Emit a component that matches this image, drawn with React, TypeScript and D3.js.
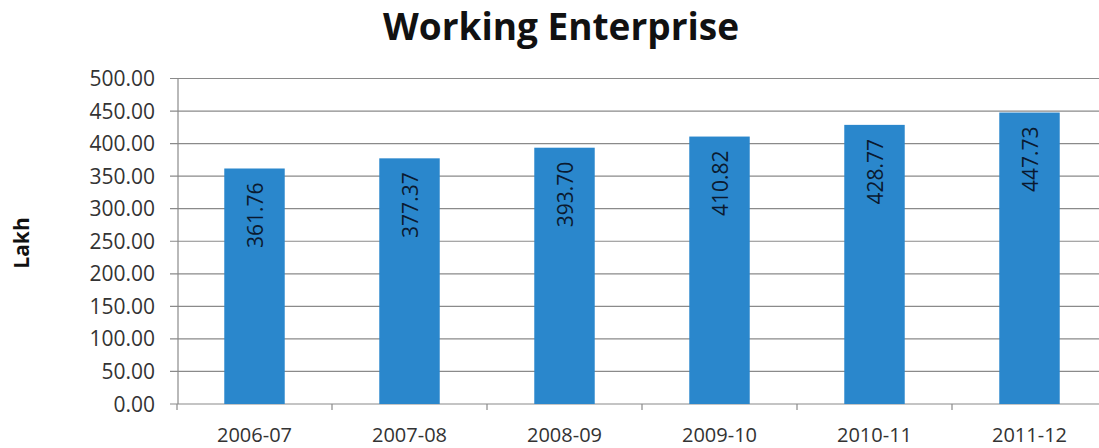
import React from "react";
import * as d3 from "d3";

const categories = ["2006-07", "2007-08", "2008-09", "2009-10", "2010-11", "2011-12"];
const values = [361.76, 377.37, 393.7, 410.82, 428.77, 447.73];
const yTicks = [0, 50, 100, 150, 200, 250, 300, 350, 400, 450, 500];
const title = "Working Enterprise";
const yLabel = "Lakh";

const W = 1099;
const H = 448;
const left = 177;
const right = 1107;
const top = 78.5;
const bottom = 404;
const font = "'Open Sans', 'Noto Sans', sans-serif";

export default function App() {
  const x = d3.scaleBand<string>().domain(categories).range([left, right]).paddingInner(0.61).paddingOuter(0.305);
  const y = d3.scaleLinear().domain([0, 500]).range([bottom, top]);
  const bounds = d3.range(categories.length + 1).map((i) => left + (i * (right - left)) / categories.length);
  const fmt = d3.format(".2f");

  return (
    <svg width={W} height={H} style={{ position: "absolute", left: 0, top: 0, background: "#fff" }}>
      <text x={561} y={40} textAnchor="middle" fontFamily={font} fontWeight="bold" fontSize={37} fill="#111">
        {title}
      </text>
      <text
        transform={`translate(29,243) rotate(-90)`}
        textAnchor="middle"
        fontFamily={font}
        fontWeight="bold"
        fontSize={21}
        fill="#111"
      >
        {yLabel}
      </text>
      {yTicks.map((t) => (
        <g key={t}>
          <line x1={170} x2={W} y1={y(t)} y2={y(t)} stroke="#8a8a8a" strokeWidth={1.2} />
          <text x={155} y={y(t)} dy="0.36em" textAnchor="end" fontFamily={font} fontSize={21} fill="#333">
            {fmt(t)}
          </text>
        </g>
      ))}
      <line x1={left + 1} x2={left + 1} y1={top} y2={bottom} stroke="#8a8a8a" strokeWidth={1.2} />
      {bounds.map((b, i) => (
        <line key={i} x1={b} x2={b} y1={bottom} y2={bottom + 6} stroke="#8a8a8a" strokeWidth={1.2} />
      ))}
      {categories.map((c, i) => {
        const bx = x(c)!;
        const bw = x.bandwidth();
        const cx = bx + bw / 2;
        const yt = y(values[i]);
        return (
          <g key={c}>
            <rect x={bx} y={yt} width={bw} height={bottom - yt} fill="#2A87CC" />
            <text
              transform={`translate(${cx + 8},${yt + 14}) rotate(-90)`}
              textAnchor="end"
              fontFamily={font}
              fontSize={21}
              fontWeight={500}
              fill="#0A1A30"
            >
              {fmt(values[i])}
            </text>
            <text x={cx} y={442} textAnchor="middle" fontFamily={font} fontSize={20} fill="#333">
              {c}
            </text>
          </g>
        );
      })}
    </svg>
  );
}
